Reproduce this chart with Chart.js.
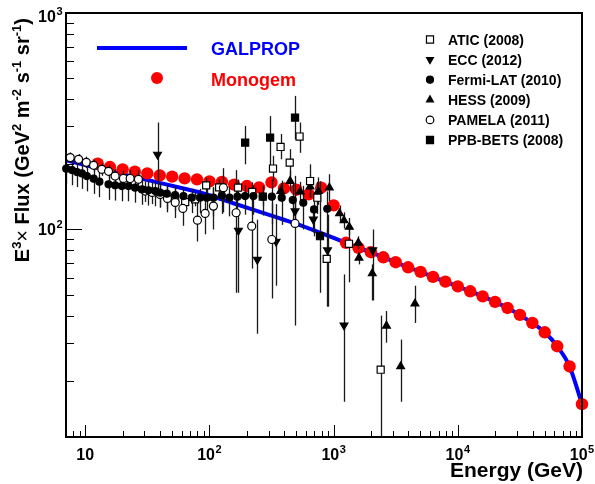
<!DOCTYPE html>
<html>
<head>
<meta charset="utf-8">
<script src="https://cdn.jsdelivr.net/npm/chart.js@4.4.1/dist/chart.umd.min.js"></script>
<style>
  html, body { margin: 0; padding: 0; background: #fff; }
</style>
</head>
<body>
<canvas id="chart" width="595" height="484"></canvas>
<script>
// electron spectrum, E^3 x flux vs energy, log-log

// GALPROP model (blue line)
const galpropE = [7, 10, 15.8, 25.1, 39.8, 63.1, 85.1, 100, 158, 251, 398, 490, 631, 1000, 1259, 1585, 1995, 2512, 3162, 3981,
                  5012, 6310, 7943, 10000, 12589, 15849, 19953, 25119, 31623, 39811, 50119, 63096, 79433, 100000];
const galpropV = [209, 198.5, 186.2, 174.8, 164.2, 154.2, 148, 143.9, 131.8, 121, 110.9, 106.6, 101.1, 91.4, 86.8, 82.3, 78.5, 74.4, 70.6, 66.9,
                  63.7, 60.4, 57.4, 54.6, 51.8, 49.1, 46.3, 43.4, 40.3, 37.0, 33.5, 28.9, 23.3, 15.6];

// Monogem (red dots)
const monogemE = [12.6, 15.8, 20.0, 25.1, 31.6, 39.8, 50.1, 63.1, 79.4, 100, 126, 158, 200, 251, 316, 398, 501, 631, 794, 1000,
                  1259, 1585, 1995, 2512, 3162, 3981, 5012, 6310, 7943, 10000, 12589, 15849, 19953, 25119, 31623, 39811, 50119, 63096, 79433, 100000];
const monogemV = [201.4, 194.3, 189.6, 184.9, 181.6, 177.8, 175.4, 172.2, 170.4, 166.8, 165.9, 161.2, 158.7, 156.5, 165.0, 154.8, 152.7, 145.2, 156.0, 129.2,
                  86.8, 82.3, 78.5, 74.4, 70.6, 66.9, 63.7, 60.4, 57.4, 54.6, 51.8, 49.1, 46.3, 43.4, 40.3, 37.0, 33.5, 28.9, 23.3, 15.6];

// Fermi-LAT (2010)
const fermiE = [7.03, 7.82, 8.57, 9.40, 10.3, 11.7, 13.0, 15.4, 17.4, 19.7, 22.3, 25.2, 28.6, 32.3, 36.6, 40.1, 45.4, 52.9, 61.8, 72.1,
                84.1, 95.2, 107.7, 125.9, 144.9, 168, 193.6, 226, 269, 318, 382, 469, 570, 695, 889];
const fermiV = [191, 188.2, 184.2, 181.6, 176.5, 171.7, 166.3, 161.6, 159.9, 158.7, 158.7, 156.0, 153.2, 151.6, 150.4, 147.9, 146.3, 144.1, 142.6, 140.2,
                140.2, 140.2, 140.2, 143.7, 140.2, 141.7, 142.6, 142.6, 141.7, 141.7, 140.2, 136.7, 132.9, 123.8, 124.7];
const fermiLo = [162, 160, 157, 154, 150, 146, 141, 137, 136, 135, 135, 133, 130, 129, 128, 126, 124, 122, 121, 119,
                 119, 119, 115, 118, 115, 116, 117, 117, 116, 106, 105, 103, 100, 93, 94];
const fermiHi = [210, 207, 203, 200, 194, 189, 183, 178, 176, 175, 175, 172, 169, 167, 165, 163, 161, 159, 157, 154,
                 154, 154, 157, 161, 157, 159, 160, 160, 159, 170, 168, 164, 159, 149, 150];

// PAMELA (2011)
const pamelaE = [7.57, 8.84, 10.2, 11.67, 13.6, 15.4, 17.4, 20.3, 23.0, 26.8, 30.4, 34.6, 40.1, 45.9, 53.0, 61.1, 80.1, 92.3, 107.7, 129.6, 164, 219, 318, 489];
const pamelaV = [214.8, 211, 204.3, 197.8, 189.6, 185.6, 176.5, 172.2, 172, 170.4, 150.4, 148.3, 145.2, 139.2, 133.4, 125.1, 110.4, 118.6, 128.2, 156.0, 119.5, 103.6, 89.9, 106.6];
const pamelaLo = [203, 199, 192, 185, 177, 172, 163, 157, 156, 153, 134, 131, 127, 120, 113, 104, 88, 95, 100, 120, 51, 66, 48, 36];
const pamelaHi = [227, 223, 217, 210, 202, 199, 190, 187, 188, 188, 167, 166, 164, 158, 154, 146, 133, 142, 156, 192, 188, 145, 132, 177];

// ATIC (2008)
const aticE = [53.0, 63.8, 76.7, 94.1, 119.7, 170, 221, 269, 325, 374, 443, 532, 646, 739, 880, 1330, 2393];
const aticV = [138.8, 133.8, 137.7, 159.8, 156.5, 156.0, 149.2, 141.7, 191.2, 240.5, 203.7, 268.7, 167.4, 140.2, 73.2, 85.9, 22.5];
const aticLo = [130, 125, 128, 147, 144, 143, 135, 128, 167, 211, 177, 226, 140, 118, 44, 57, 10];
const aticHi = [148, 143, 148, 173, 170, 170, 165, 157, 219, 276, 235, 312, 200, 166, 100, 100, 40];

// ECC (2012)
const eccE = [38.2, 171, 243, 344, 489, 687, 893, 1212, 2064];
const eccV = [222, 98.9, 72.6, 88.0, 121.5, 111.3, 80.2, 36.1, 80.2];
const eccLo = [140, 51, 33, 55, 103, 97, 44, 16, 47];
const eccHi = [312, 117, 111, 131, 142, 126, 117, 62, 100];

// HESS (2009)
const hessE = [375, 446, 537, 646, 753, 923, 1116, 1212, 1338, 1580, 1600, 2048, 2665, 3466, 4517];
const hessV = [150.4, 167.4, 149.4, 157.7, 150.4, 156.0, 118.6, 110.1, 102.7, 86.8, 74.0, 62.6, 35.9, 23.3, 45.4];
const hessLo = [138, 150, 134, 140, 130, 135, 109, 101, 94, 81, 69, 47, 30, 16, 37];
const hessHi = [164, 186, 166, 178, 174, 180, 129, 120, 113, 93, 78, 69, 42, 31, 55];

// PPB-BETS (2008)
const ppbE = [194, 308, 489, 777];
const ppbV = [252, 265.8, 328.9, 93.1];
const ppbLo = [200, 194, 261, 51];
const ppbHi = [301, 334, 414, 167];

const xTickExp = [1, 2, 3, 4, 5];
const yTickExp = [2, 3];

const FONT = '"Liberation Sans", Arial, Helvetica, sans-serif';
const font = (s, b) => (b ? 'bold ' : '') + s + 'px ' + FONT;

const pts = (xs, ys) => xs.map((v, i) => ({ x: v, y: ys[i] }));

function marker(label, xs, ys, lo, hi, style, r, fill, rot) {
    return {
        label: label,
        data: pts(xs, ys),
        errLo: lo,
        errHi: hi,
        showLine: false,
        pointStyle: style,
        pointRadius: r,
        pointRotation: rot || 0,
        pointBackgroundColor: fill,
        pointBorderColor: '#000',
        pointBorderWidth: 1.2,
        clip: false
    };
}

function drawErrors(chart) {
    const { ctx, chartArea: a, scales: { x, y } } = chart;
    ctx.save();
    ctx.beginPath();
    ctx.rect(a.left, a.top, a.width, a.height);
    ctx.clip();
    ctx.strokeStyle = '#1a1a1a';
    ctx.lineWidth = 1.3;
    chart.data.datasets.forEach(ds => {
        if (!ds.errLo) return;
        ds.data.forEach((p, i) => {
            const px = Math.round(x.getPixelForValue(p.x)) + 0.5;
            ctx.beginPath();
            ctx.moveTo(px, y.getPixelForValue(ds.errLo[i]));
            ctx.lineTo(px, y.getPixelForValue(ds.errHi[i]));
            ctx.stroke();
        });
    });
    ctx.restore();
}

function pow10(ctx, e, x, base, align) {
    ctx.font = font(16, true);
    const w1 = ctx.measureText('10').width;
    const sup = e === 1 ? '' : String(e);
    ctx.font = font(11, true);
    const w2 = sup ? ctx.measureText(sup).width + 0.5 : 0;
    const left = align === 'right' ? x - w1 - w2 : x - (w1 + w2) / 2;
    ctx.textAlign = 'left';
    ctx.textBaseline = 'alphabetic';
    ctx.font = font(16, true);
    ctx.fillText('10', left, base);
    if (sup) {
        ctx.font = font(11, true);
        ctx.fillText(sup, left + w1 + 0.5, base - 7.5);
    }
}

const rootStyle = {
    id: 'rootStyle',
    afterDatasetDraw(chart, args) {
        // error bars go over the model curves, under the markers
        if (args.index === 6) drawErrors(chart);
    },
    afterDraw(chart) {
        const { ctx, chartArea: a, scales: { x, y } } = chart;
        ctx.save();
        ctx.strokeStyle = '#000';
        ctx.fillStyle = '#000';

        // ticks, inside the frame
        ctx.lineWidth = 1;
        for (let d = 0; d <= 5; d++) {
            for (let k = 1; k <= 9; k++) {
                const v = k * Math.pow(10, d);
                if (v <= x.min || v > x.max) continue;
                const px = Math.round(x.getPixelForValue(v)) + 0.5;
                ctx.beginPath();
                ctx.moveTo(px, a.bottom);
                ctx.lineTo(px, a.bottom - (k === 1 ? 12 : 6));
                ctx.stroke();
            }
        }
        for (let d = 1; d <= 3; d++) {
            for (let k = 1; k <= 9; k++) {
                const v = k * Math.pow(10, d);
                if (v < y.min || v > y.max) continue;
                const py = Math.round(y.getPixelForValue(v)) + 0.5;
                ctx.beginPath();
                ctx.moveTo(a.left, py);
                ctx.lineTo(a.left + (k === 1 ? 16 : 8), py);
                ctx.stroke();
            }
        }

        // frame
        ctx.lineWidth = 2;
        ctx.strokeRect(a.left, a.top, a.width, a.height);

        // tick labels
        xTickExp.forEach(e => pow10(ctx, e, x.getPixelForValue(Math.pow(10, e)), a.bottom + 23, 'center'));
        yTickExp.forEach(e => {
            const py = y.getPixelForValue(Math.pow(10, e));
            pow10(ctx, e, a.left - 3.5, Math.max(py + 6, 22), 'right');
        });

        // x title
        ctx.font = font(21, true);
        ctx.textAlign = 'right';
        ctx.fillText('Energy (GeV)', a.right + 1, 477);

        // y title, rotated, aligned to the top
        const parts = [['E', 0], ['3', 1], ['\u00d7', 2], [' Flux (GeV', 0], ['2', 1], [' m', 0], ['-2', 1],
                       [' s', 0], ['-1', 1], [' sr', 0], ['-1', 1], [')', 0]];
        const pf = t => t === 1 ? font(13, true) : (t === 2 ? font(20, false) : font(20, true));
        let W = 0;
        parts.forEach(p => { ctx.font = pf(p[1]); W += ctx.measureText(p[0]).width; });
        ctx.save();
        ctx.translate(29, 18);
        ctx.rotate(-Math.PI / 2);
        ctx.textAlign = 'left';
        let u = -W;
        parts.forEach(p => {
            ctx.font = pf(p[1]);
            ctx.fillText(p[0], u, p[1] === 1 ? -8 : 0);
            u += ctx.measureText(p[0]).width;
        });
        ctx.restore();

        // model legend
        ctx.strokeStyle = '#0000ff';
        ctx.lineWidth = 4;
        ctx.beginPath();
        ctx.moveTo(97, 48);
        ctx.lineTo(187, 48);
        ctx.stroke();
        ctx.fillStyle = '#ff0000';
        ctx.beginPath();
        ctx.arc(157, 78, 6, 0, Math.PI * 2);
        ctx.fill();
        ctx.textAlign = 'left';
        ctx.font = font(18, true);
        ctx.fillStyle = '#0000ff';
        ctx.fillText('GALPROP', 211, 55);
        ctx.fillStyle = '#ff0000';
        ctx.fillText('Monogem', 211, 85.5);

        // data legend
        const rows = [
            ['ATIC (2008)', 'rect', 5, '#fff', 0],
            ['ECC (2012)', 'triangle', 4, '#000', 180],
            ['Fermi-LAT (2010)', 'circle', 3.5, '#000', 0],
            ['HESS (2009)', 'triangle', 4, '#000', 0],
            ['PAMELA (2011)', 'circle', 3.8, '#fff', 0],
            ['PPB-BETS (2008)', 'rect', 5, '#000', 0]
        ];
        ctx.font = font(14, true);
        rows.forEach((r, i) => {
            const base = 44.5 + i * 20.1;
            ctx.fillStyle = r[3];
            ctx.strokeStyle = '#000';
            ctx.lineWidth = 1.2;
            Chart.helpers.drawPoint(ctx, { pointStyle: r[1], radius: r[2], rotation: r[4], borderWidth: 1.2 }, 430, base - 5);
            ctx.fillStyle = '#000';
            ctx.font = font(14, true);
            ctx.fillText(r[0], 448, base);
        });
        ctx.restore();
    }
};

new Chart(document.getElementById('chart').getContext('2d'), {
    type: 'scatter',
    data: {
        datasets: [
            marker('Fermi-LAT (2010)', fermiE, fermiV, fermiLo, fermiHi, 'circle', 3.5, '#000'),
            marker('PAMELA (2011)', pamelaE, pamelaV, pamelaLo, pamelaHi, 'circle', 4, '#fff'),
            marker('ATIC (2008)', aticE, aticV, aticLo, aticHi, 'rect', 5, '#fff'),
            marker('ECC (2012)', eccE, eccV, eccLo, eccHi, 'triangle', 4.5, '#000', 180),
            marker('HESS (2009)', hessE, hessV, hessLo, hessHi, 'triangle', 4.5, '#000'),
            marker('PPB-BETS (2008)', ppbE, ppbV, ppbLo, ppbHi, 'rect', 5, '#000'),
            {
                label: 'Monogem',
                data: pts(monogemE, monogemV),
                showLine: false,
                pointStyle: 'circle',
                pointRadius: 6.2,
                pointBackgroundColor: '#ff0000',
                pointBorderColor: '#ff0000',
                pointBorderWidth: 0,
                clip: false
            },
            {
                label: 'GALPROP',
                data: pts(galpropE, galpropV),
                showLine: true,
                pointRadius: 0,
                borderColor: '#0000ff',
                borderWidth: 4,
                cubicInterpolationMode: 'monotone'
            }
        ]
    },
    options: {
        responsive: false,
        animation: false,
        devicePixelRatio: 1,
        events: [],
        layout: { padding: { left: 66, right: 13, top: 13, bottom: 47 } },
        plugins: {
            legend: { display: false },
            tooltip: { enabled: false }
        },
        scales: {
            x: { type: 'logarithmic', min: 7, max: 100000, display: false },
            y: { type: 'logarithmic', min: 11, max: 1000, display: false }
        }
    },
    plugins: [rootStyle]
});
</script>
</body>
</html>
